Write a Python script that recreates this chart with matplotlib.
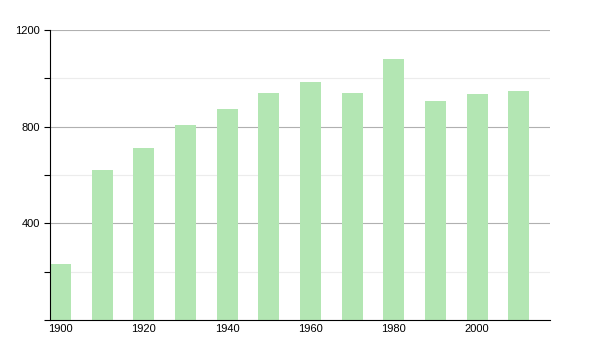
import matplotlib
matplotlib.use("Agg")
import matplotlib.pyplot as plt
from matplotlib.ticker import MultipleLocator

# population by census year
years = [1900, 1910, 1920, 1930, 1940, 1950, 1960, 1970, 1980, 1990, 2000, 2010]
values = [232, 620, 711, 805, 874, 940, 986, 940, 1080, 906, 937, 947]

plt.rcParams['font.family'] = ['Liberation Sans', 'DejaVu Sans']

fig = plt.figure(figsize=(6, 3.5), dpi=100)
ax = fig.add_axes([50 / 600, 30 / 350, 500 / 600, 290 / 350])

ax.bar(years, values, width=5, color='#b3e6b3', zorder=2)

ax.set_xlim(1897.5, 2017.5)
ax.set_ylim(0, 1200)
ax.set_xticks(range(1900, 2001, 20))
ax.yaxis.set_major_locator(MultipleLocator(400))
ax.yaxis.set_minor_locator(MultipleLocator(200))
ax.set_yticks([400, 800, 1200])

ax.grid(axis='y', which='major', color='#b0b0b0', linewidth=0.8, zorder=0)
ax.grid(axis='y', which='minor', color='#ececec', linewidth=0.8, zorder=0)
ax.set_axisbelow(True)

for side in ('top', 'right'):
    ax.spines[side].set_visible(False)
ax.spines['left'].set_color('black')
ax.spines['bottom'].set_color('black')

ax.tick_params(axis='y', which='both', length=4, width=0.8, labelsize=8, pad=3)
ax.tick_params(axis='x', length=0, labelsize=8, pad=3)

fig.savefig('out.png', dpi=100)
